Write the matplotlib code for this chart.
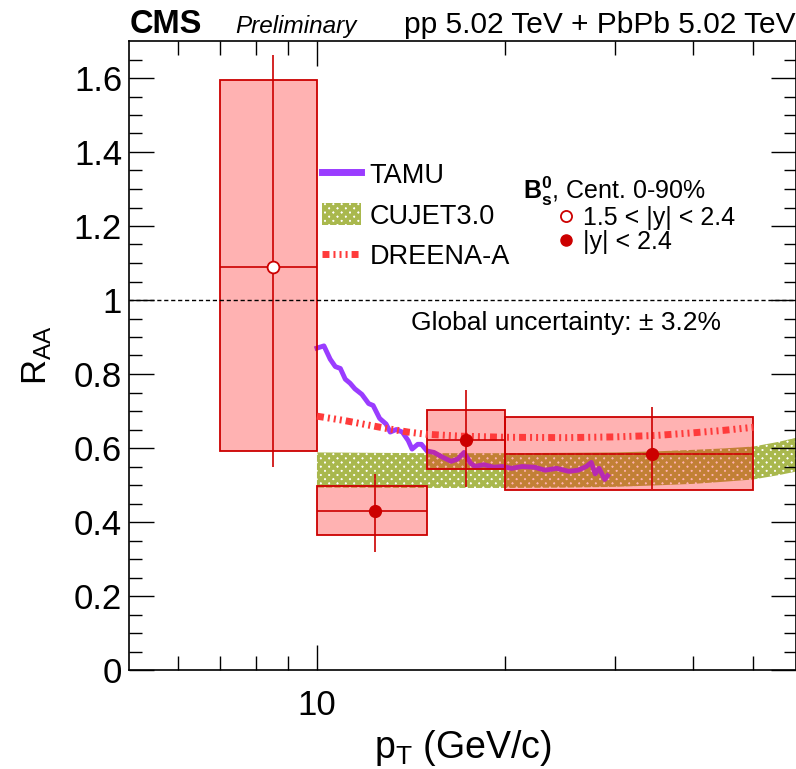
import numpy as np
import matplotlib
matplotlib.use('Agg')
import matplotlib.pyplot as plt
from matplotlib.lines import Line2D
from matplotlib.patches import Patch

plt.rcParams['font.family'] = ['Liberation Sans', 'DejaVu Sans']
plt.rcParams['mathtext.fontset'] = 'custom'
plt.rcParams['mathtext.rm'] = 'Liberation Sans'
plt.rcParams['mathtext.it'] = 'Liberation Sans:italic'
plt.rcParams['mathtext.bf'] = 'Liberation Sans:bold'
plt.rcParams['hatch.linewidth'] = 2.8

# --- data ---
# open point: 1.5 < |y| < 2.4
fwd_pt = [8.5]
fwd_raa = [1.09]
fwd_bin_lo = [7.0]
fwd_bin_hi = [10.0]
fwd_stat_lo = [0.55]
fwd_stat_hi = [1.662]
fwd_syst_lo = [0.591]
fwd_syst_hi = [1.595]

# filled points: |y| < 2.4
mid_pt = [12.4, 17.3, 34.4]
mid_raa = [0.431, 0.621, 0.583]
mid_bin_lo = [10.0, 15.0, 20.0]
mid_bin_hi = [15.0, 20.0, 50.0]
mid_stat_lo = [0.32, 0.494, 0.488]
mid_stat_hi = [0.529, 0.757, 0.71]
mid_syst_lo = [0.366, 0.542, 0.486]
mid_syst_hi = [0.496, 0.702, 0.683]

# TAMU
tamu_pt = [10.0, 10.26, 10.5, 10.7, 10.9, 11.1, 11.3, 11.5, 11.8, 12.1, 12.3, 12.6,
           12.9, 13.1, 13.4, 13.7, 14.0, 14.2, 14.5, 14.7, 15.0, 15.4, 15.9, 16.4,
           16.8, 17.2, 17.6, 17.9, 18.5, 19.2, 19.8, 20.5, 21.3, 22.3, 23.2, 24.2,
           25.3, 26.2, 27.0, 27.5, 27.9, 28.3, 28.9, 29.2]
tamu_raa = [0.87, 0.876, 0.84, 0.82, 0.815, 0.786, 0.775, 0.76, 0.745, 0.72, 0.715, 0.68,
            0.665, 0.643, 0.65, 0.643, 0.62, 0.597, 0.61, 0.61, 0.592, 0.588, 0.575, 0.564,
            0.57, 0.588, 0.56, 0.55, 0.555, 0.548, 0.55, 0.545, 0.55, 0.548, 0.54, 0.545,
            0.537, 0.54, 0.55, 0.561, 0.53, 0.545, 0.515, 0.525]

# CUJET3.0 band
cujet_pt = [10, 15, 20, 25, 30, 35, 40, 45, 50, 55, 60]
cujet_lo = [0.493, 0.492, 0.492, 0.493, 0.495, 0.499, 0.503, 0.509, 0.515, 0.527, 0.54]
cujet_hi = [0.588, 0.586, 0.586, 0.587, 0.588, 0.591, 0.595, 0.599, 0.604, 0.617, 0.632]

# DREENA-A
dreena_pt = [10, 11, 12, 13, 14, 15, 17, 20, 25, 30, 35, 40, 45, 50]
dreena_raa = [0.686, 0.675, 0.663, 0.652, 0.643, 0.637, 0.632, 0.629, 0.628, 0.63,
              0.634, 0.641, 0.648, 0.656]

red = '#cc0000'
box_face = (1.0, 0.0, 0.0, 0.3)
olive = '#a9b84d'
purple = '#9a3cff'
dreena_col = '#ff3b3b'
dreena_dash = (1.0, 0.58, 0.29, 0.58, 0.29, 0.58, 0.29, 0.58)

fig = plt.figure(figsize=(7.96, 7.69), dpi=100)
ax = fig.add_axes([129 / 796, 1 - 670 / 769, 667 / 796, 629 / 769])
ax.set_xscale('log')
ax.set_xlim(5, 58.5)
ax.set_ylim(0, 1.7)

# models
ax.fill_between(cujet_pt, cujet_lo, cujet_hi, facecolor='white', edgecolor=olive,
                hatch='xxxx', linewidth=0, zorder=1)
ax.plot(tamu_pt, tamu_raa, color=purple, lw=3.5, zorder=2)

# systematic boxes
ax.bar(fwd_bin_lo, np.subtract(fwd_syst_hi, fwd_syst_lo),
       width=np.subtract(fwd_bin_hi, fwd_bin_lo), bottom=fwd_syst_lo, align='edge',
       facecolor=box_face, edgecolor=red, linewidth=1.3, zorder=3)
ax.bar(mid_bin_lo, np.subtract(mid_syst_hi, mid_syst_lo),
       width=np.subtract(mid_bin_hi, mid_bin_lo), bottom=mid_syst_lo, align='edge',
       facecolor=box_face, edgecolor=red, linewidth=1.3, zorder=3)

ax.plot(dreena_pt, dreena_raa, color=dreena_col, lw=5, dashes=dreena_dash, zorder=3.5)

# points with stat errors
ax.errorbar(fwd_pt, fwd_raa,
            xerr=[np.subtract(fwd_pt, fwd_bin_lo), np.subtract(fwd_bin_hi, fwd_pt)],
            yerr=[np.subtract(fwd_raa, fwd_stat_lo), np.subtract(fwd_stat_hi, fwd_raa)],
            fmt='o', ms=8.5, mfc='white', mec=red, mew=1.3, ecolor=red,
            elinewidth=1.2, capsize=0, zorder=4)
ax.errorbar(mid_pt, mid_raa,
            xerr=[np.subtract(mid_pt, mid_bin_lo), np.subtract(mid_bin_hi, mid_pt)],
            yerr=[np.subtract(mid_raa, mid_stat_lo), np.subtract(mid_stat_hi, mid_raa)],
            fmt='o', ms=8.5, mfc=red, mec=red, ecolor=red,
            elinewidth=1.2, capsize=0, zorder=4)

ax.axhline(1.0, color='black', lw=1.0, ls=(0, (3, 2)), zorder=5)

# axes styling
ax.set_xticks([10])
ax.set_xticklabels(['10'])
ax.set_xticks([6, 7, 8, 9, 20, 30, 40, 50], minor=True)
ax.xaxis.set_minor_formatter(matplotlib.ticker.NullFormatter())
ax.set_yticks(np.arange(0, 1.61, 0.2))
ax.set_yticklabels(['0', '0.2', '0.4', '0.6', '0.8', '1', '1.2', '1.4', '1.6'])
ax.set_yticks(np.arange(0, 1.7, 0.05), minor=True)
ax.tick_params(which='both', direction='in', top=True, right=True, width=1.0,
               labelsize=25, colors='black')
ax.tick_params(axis='x', which='major', length=18, pad=14)
ax.tick_params(axis='x', which='minor', length=10)
ax.tick_params(axis='y', which='major', length=18, pad=5)
ax.tick_params(axis='y', which='minor', length=9)
for s in ax.spines.values():
    s.set_linewidth(1.2)

ax.set_xlabel(r'p$_{\rm T}$ (GeV/c)', fontsize=27, labelpad=4)
ax.set_ylabel(r'R$_{\rm AA}$', fontsize=25, labelpad=14)

# header
fig.text(130 / 796, 1 - 33 / 769, 'CMS', fontsize=23.5, fontweight='bold')
fig.text(235 / 796, 1 - 33 / 769, 'Preliminary', fontsize=17.5, style='italic')
fig.text(795 / 796, 1 - 33 / 769, 'pp 5.02 TeV + PbPb 5.02 TeV', fontsize=21.5, ha='right')

ax.text((411 - 129) / 667, (670 - 330) / 629, u'Global uncertainty: \u00b1 3.2%',
        transform=ax.transAxes, fontsize=19, va='baseline')

# model legend
model_handles = [
    Line2D([], [], color=purple, lw=5),
    Patch(facecolor='white', edgecolor=olive, hatch='xxxx', linewidth=0),
    Line2D([], [], color=dreena_col, lw=5, dashes=dreena_dash),
]
leg1 = ax.legend(model_handles, ['TAMU', 'CUJET3.0', 'DREENA-A'], loc='upper left',
                 bbox_to_anchor=((322 - 129) / 667, (670 - 162) / 629), frameon=False,
                 fontsize=19.5, handlelength=1.45, handletextpad=0.3, labelspacing=0.53,
                 handleheight=0.9, borderaxespad=0, borderpad=0)
ax.add_artist(leg1)

# data legend
ax.text((523 - 129) / 667, (670 - 199) / 629,
        r'$\mathbf{B}^{\mathbf{0}}_{\mathbf{s}}$, Cent. 0-90%',
        transform=ax.transAxes, fontsize=18, va='baseline')
data_handles = [
    Line2D([], [], ls='none', marker='o', ms=8, mfc='white', mec=red, mew=1.3),
    Line2D([], [], ls='none', marker='o', ms=8, mfc=red, mec=red),
]
leg2 = ax.legend(data_handles, ['1.5 < |y| < 2.4', '|y| < 2.4'], loc='upper left',
                 bbox_to_anchor=((553 - 129) / 667, (670 - 206) / 629), frameon=False,
                 fontsize=18, handlelength=1.0, handletextpad=0.2,
                 labelspacing=0.0, borderaxespad=0, borderpad=0)

fig.savefig('out.png', dpi=100)
